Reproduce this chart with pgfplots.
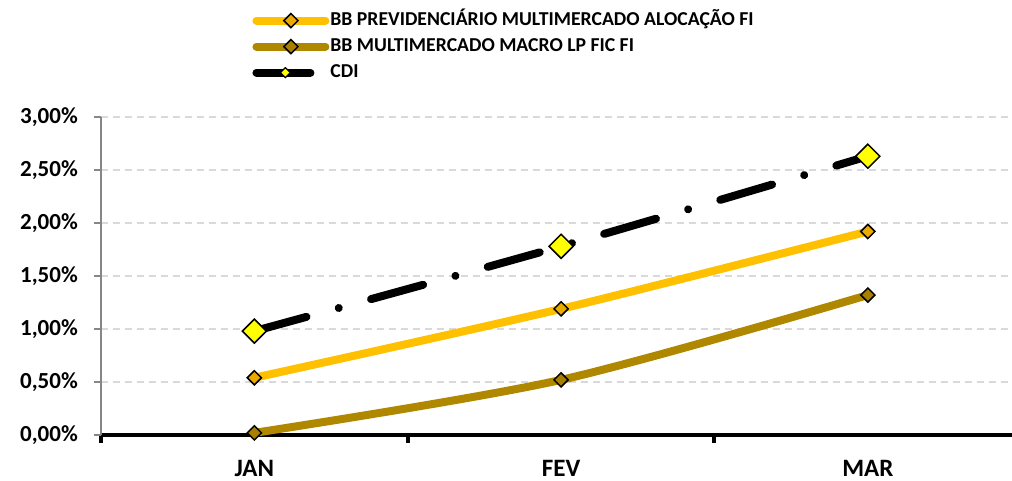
\documentclass[border=0pt]{standalone}
\usepackage{fontspec}
\setmainfont{Carlito}
\usepackage{pgfplots}
\pgfplotsset{compat=1.18}
\definecolor{cy}{HTML}{FFC000}
\definecolor{cyd}{HTML}{EBAA00}
\definecolor{cb}{HTML}{B08800}
\definecolor{cbd}{HTML}{A88000}
\definecolor{cdi}{HTML}{FFFF00}
\definecolor{gridc}{HTML}{D9D9D9}
\definecolor{axc}{HTML}{868686}
\begin{document}
\begin{tikzpicture}[x=1pt,y=1pt]
\path[use as bounding box] (0,0) rectangle (1012,481);
\begin{axis}[
  at={(101pt,46pt)}, anchor=south west,
  scale only axis, width=911pt, height=318pt,
  xmin=-0.5, xmax=2.47, ymin=0, ymax=3,
  axis x line*=bottom, axis y line*=left,
  x axis line style={black, line width=4pt, -},
  y axis line style={axc, line width=1.2pt, -},
  xtick={0,1,2}, xticklabels={JAN,FEV,MAR},
  major x tick style={draw=none},
  minor xtick={-0.5,0.5,1.5},
  minor x tick style={black, line width=4pt},
  minor tick length=8pt,
  ytick={0,0.5,...,3},
  major y tick style={axc, line width=1.2pt},
  major tick length=7pt,
  tick align=outside,
  ymajorgrids, grid style={gridc, line width=1.2pt, dash pattern=on 7pt off 5pt},
  /pgf/number format/assume math mode=true,
  yticklabel={\pgfmathprintnumber[fixed,fixed zerofill,precision=2,use comma]{\tick}\%},
  yticklabel style={font=\bfseries\fontsize{23}{23}\selectfont, anchor=east, inner sep=0pt, xshift=-16pt},
  xticklabel style={font=\bfseries\fontsize{25}{25}\selectfont, anchor=base, inner sep=0pt, yshift=-34.5pt},
  legend style={draw=none, fill=none, at={(0.166,1.332)}, anchor=north west, inner sep=0pt,
    font=\bfseries\fontsize{19.7}{20}\selectfont, row sep=8pt, column sep=1pt,
    nodes={inner sep=0pt, text height=14pt, text depth=4pt}},
  legend cell align=left,
  legend image code/.code={\draw[#1,mark repeat=2,mark phase=2] plot coordinates {(0pt,0pt) (34.5pt,0pt) (69pt,0pt)};},
  clip=false,
]
\addplot[cy, line width=8pt, line cap=round, smooth, mark=square*,
  mark options={rotate=45, fill=cyd, draw=black, line width=1.5pt, solid}, mark size=5pt]
  coordinates {(0,0.54) (1,1.19) (2,1.92)};
\addlegendentry{BB PREVIDENCIÁRIO MULTIMERCADO ALOCAÇÃO FI}
\addplot[cb, line width=8pt, line cap=round, smooth, mark=square*,
  mark options={rotate=45, fill=cbd, draw=black, line width=1.5pt, solid}, mark size=5pt]
  coordinates {(0,0.02) (1,0.52) (2,1.32)};
\addlegendentry{BB MULTIMERCADO MACRO LP FIC FI}
\addplot[black, line width=8pt, line cap=round, smooth, dash pattern=on 54pt off 33.5pt on 0.01pt off 33.5pt,
  mark=square*, mark options={rotate=45, fill=cdi, draw=black, line width=1.5pt, solid}, mark size=8.5pt,
  legend image code/.code={\draw[black, line width=8pt, line cap=round] (0pt,0pt) -- (58pt,0pt);
     \draw[black, fill=cdi, line width=1.2pt] (29pt,0pt) ++(0,5pt) -- ++(5pt,-5pt) -- ++(-5pt,-5pt) -- ++(-5pt,5pt) -- cycle;}]
  coordinates {(0,0.98) (1,1.78) (2,2.63)};
\addlegendentry{CDI}
\end{axis}
\end{tikzpicture}
\end{document}
